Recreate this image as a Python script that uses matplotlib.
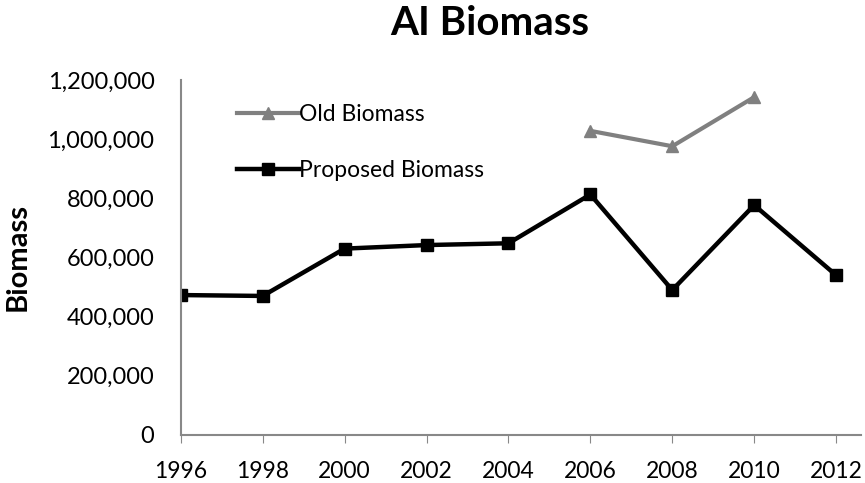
import numpy as np
import matplotlib.pyplot as plt
from matplotlib.ticker import FuncFormatter

# Data
years = [1996, 1998, 2000, 2002, 2004, 2006, 2008, 2010, 2012]
proposed = [473000, 470000, 630000, 642000, 648000, 813000, 490000, 777000, 540000]
old_years = [2006, 2008, 2010]
old = [1028000, 976000, 1142000]

plt.rcParams["font.family"] = ["Lato", "DejaVu Sans"]

fig = plt.figure(figsize=(8.65, 4.83), dpi=100)
ax = fig.add_axes([0.209, 0.0994, 0.786, 0.735])

ax.plot(old_years, old, color="#808080", lw=3, marker="^", ms=9,
        label="Old Biomass")
ax.plot(years, proposed, color="black", lw=3.2, marker="s", ms=8,
        label="Proposed Biomass")

ax.set_xlim(1996, 2012.6)
ax.set_ylim(0, 1200000)
ax.set_xticks(np.arange(1996, 2013, 2))
ax.set_yticks(np.arange(0, 1200001, 200000))
ax.yaxis.set_major_formatter(FuncFormatter(lambda v, p: f"{int(v):,}"))
ax.tick_params(axis="x", direction="out", length=6, color="#888888",
               labelsize=16.5, pad=13)
ax.tick_params(axis="y", length=0, labelsize=17, pad=19)

for s in ["top", "right"]:
    ax.spines[s].set_visible(False)
for s in ["left", "bottom"]:
    ax.spines[s].set_color("#888888")
    ax.spines[s].set_linewidth(1.5)

ax.set_ylabel("Biomass", fontsize=21, fontweight="bold", labelpad=12)
fig.suptitle("AI Biomass", fontsize=29, fontweight="bold", x=0.566, y=0.99)

ax.legend(loc="upper left", bbox_to_anchor=(0.052, 0.99), frameon=False,
          fontsize=16.5, handlelength=2.7, handletextpad=0.0,
          labelspacing=1.5)

plt.savefig("out.png")
